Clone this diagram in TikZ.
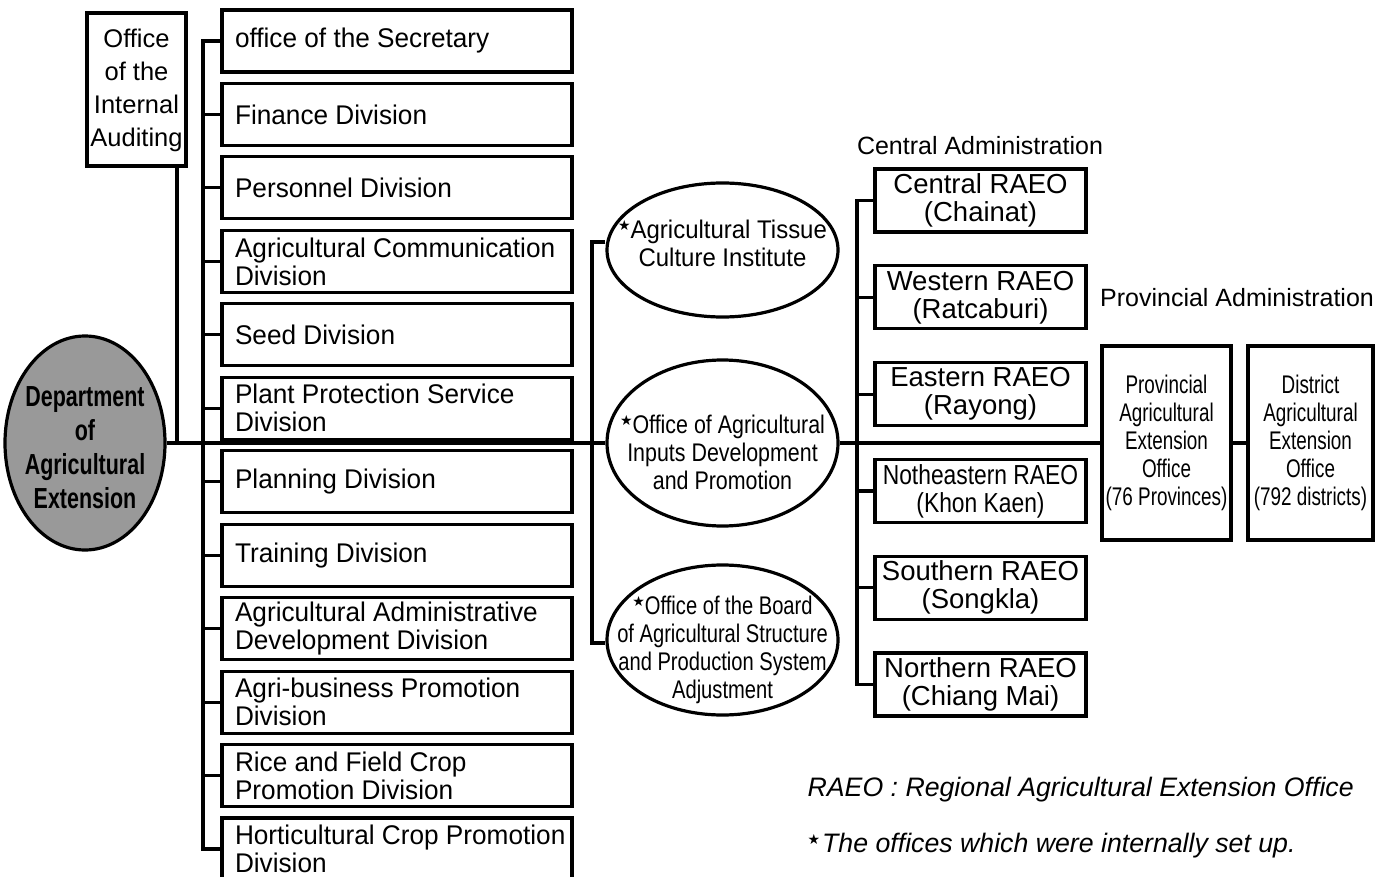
\documentclass[tikz,border=0pt]{standalone}
\usepackage{fontspec}
\setmainfont{Liberation Sans}
\newfontfamily\symf{DejaVu Sans}
\newfontfamily\fA[FakeStretch=0.94]{Liberation Sans}
\newfontfamily\fB[FakeStretch=0.84]{Liberation Sans}
\newfontfamily\fC[FakeStretch=0.79]{Liberation Sans}
\newfontfamily\fP[FakeStretch=0.74]{Liberation Sans}
\newfontfamily\fN[FakeStretch=0.83]{Liberation Sans}
\newfontfamily\fD[FakeStretch=0.74]{Liberation Sans}
\newfontfamily\fL[FakeStretch=0.97]{Liberation Sans}
\newcommand{\mystar}{\raisebox{8pt}{\fontsize{14}{14}\selectfont\symf ★}}
\newcommand{\dl}[1]{\makebox[324pt][l]{#1}}
\usetikzlibrary{shapes.geometric}
\begin{document}
\begin{tikzpicture}[x=1pt,y=-1pt,line width=3.2pt,
  divbox/.style={draw,rectangle,minimum width=350pt,minimum height=62pt,inner xsep=13pt,inner ysep=0pt,align=left,font=\fontsize{27}{28}\fL},
  raeo/.style={draw,rectangle,minimum width=211pt,minimum height=63pt,inner sep=0pt,align=center,font=\fontsize{27.5}{28}\selectfont},
  provbox/.style={draw,rectangle,minimum height=194pt,inner sep=0pt,align=center,font=\fontsize{25.5}{28}\fP},
  ell/.style={draw,ellipse,minimum width=231pt,inner sep=0pt},
  etext/.style={align=center,inner sep=0pt},
  heading/.style={font=\fontsize{25}{28}\selectfont,inner sep=0pt},
  legend/.style={anchor=west,inner sep=0pt,font=\fontsize{26.7}{28}\selectfont\itshape}]
\useasboundingbox (0,0) rectangle (1391,877);
\clip (0,0) rectangle (1391,877);
\fill[white] (0,0) rectangle (1391,877);

% Department
\node[ell,fill=black!40,minimum width=160pt,minimum height=214pt] (dept) at (85,443) {};
\node[etext,font=\fontsize{29}{34}\fD\bfseries] (deptt) at (85,448) {Department\\of\\Agricultural\\Extension};

% Internal auditing
\node[draw,rectangle,minimum width=99pt,minimum height=153pt,inner sep=0pt,align=center,font=\fontsize{25.5}{33}\selectfont] (aud) at (136.5,89.5) {\rule{0pt}{20pt}Office\\of the\\Internal\\Auditing};

% Divisions
\node[divbox] (sec) at (397,41) {\dl{office of the Secretary}};
\node[divbox] (fin) at (397,114.5) {\dl{Finance Division}};
\node[divbox] (per) at (397,187.9) {\dl{Personnel Division}};
\node[divbox] (com) at (397,261.4) {\dl{Agricultural Communication}\\\dl{Division}};
\node[divbox] (see) at (397,334.8) {\dl{Seed Division}};
\node[divbox] (ppr) at (397,408.3) {\dl{Plant Protection Service}\\\dl{Division}};
\node[divbox] (pla) at (397,481.7) {\dl{Planning Division}};
\node[divbox] (tra) at (397,555.2) {\dl{Training Division}};
\node[divbox] (adm) at (397,628.6) {\dl{Agricultural Administrative}\\\dl{Development Division}};
\node[divbox] (agb) at (397,702.1) {\dl{Agri-business Promotion}\\\dl{Division}};
\node[divbox] (ric) at (397,775.5) {\dl{Rice and Field Crop}\\\dl{Promotion Division}};
\node[divbox] (hor) at (397,848.9) {\dl{Horticultural Crop Promotion}\\\dl{Division}};

% Middle ellipses
\node[ell,minimum height=134pt] (tis) at (722.5,250) {};
\node[etext,font=\fontsize{25.5}{28}\fA] (tist) at (722.5,243) {\mystar Agricultural Tissue\\Culture Institute};
\node[ell,minimum height=166pt] (ins) at (722.5,443) {};
\node[etext,font=\fontsize{25.5}{28}\fB] (inst) at (722.5,452) {\mystar Office of Agricultural\\Inputs Development\\and Promotion};
\node[ell,minimum height=150pt] (brd) at (722.5,640) {};
\node[etext,font=\fontsize{25.5}{28}\fC] (brdt) at (722.5,650) {\mystar Office of the Board\\of Agricultural Structure\\and Production System\\Adjustment};

% RAEO
\node[heading] (cadm) at (980,146) {Central Administration};
\node[raeo] (cen) at (980.5,200.5) {Central RAEO\\(Chainat)};
\node[raeo] (wes) at (980.5,297.3) {Western RAEO\\(Ratcaburi)};
\node[raeo] (eas) at (980.5,394.1) {Eastern RAEO\\(Rayong)};
\node[raeo,font=\fontsize{27.5}{28}\fN] (nea) at (980.5,490.9) {Notheastern RAEO\\(Khon Kaen)};
\node[raeo] (sou) at (980.5,587.7) {Southern RAEO\\(Songkla)};
\node[raeo] (nor) at (980.5,684.5) {Northern RAEO\\(Chiang Mai)};

% Provincial
\node[heading] (padm) at (1237,298) {Provincial Administration};
\node[provbox,minimum width=129pt] (prov) at (1166.5,443) {Provincial\\Agricultural\\Extension\\Office\\(76 Provinces)};
\node[provbox,minimum width=125pt] (dist) at (1310.5,443) {District\\Agricultural\\Extension\\Office\\(792 districts)};

% Legend
\node[legend] (leg1) at (806,790) {RAEO : Regional Agricultural Extension Office};
\node[legend] (leg2) at (806,846) {\mystar\hspace{2pt}The offices which were internally set up.};

% Connectors
\coordinate (lb) at (203,443);
\coordinate (ab) at (177,443);
\coordinate (mb) at (592,443);
\coordinate (rb) at (857,443);
\draw (dept.east) -- (ins.west);
\draw (ins.east) -- (prov.west);
\draw (prov.east) -- (dist.west);
\draw (aud.south -| ab) -- (ab);
\draw (sec.west) -- (sec.west -| lb) -- (hor.west -| lb) -- (hor.west);
\foreach \n in {fin,per,com,see,ppr,pla,tra,adm,agb,ric}
  \draw (\n.west) -- (\n.west -| lb);
\draw ([yshift=8pt]tis.west) -| (mb) |- ([yshift=-3pt]brd.west);
\draw (cen.west) -| (rb) |- (nor.west);
\foreach \n in {wes,eas,nea,sou}
  \draw (\n.west) -- (\n.west -| rb);
\end{tikzpicture}
\end{document}
